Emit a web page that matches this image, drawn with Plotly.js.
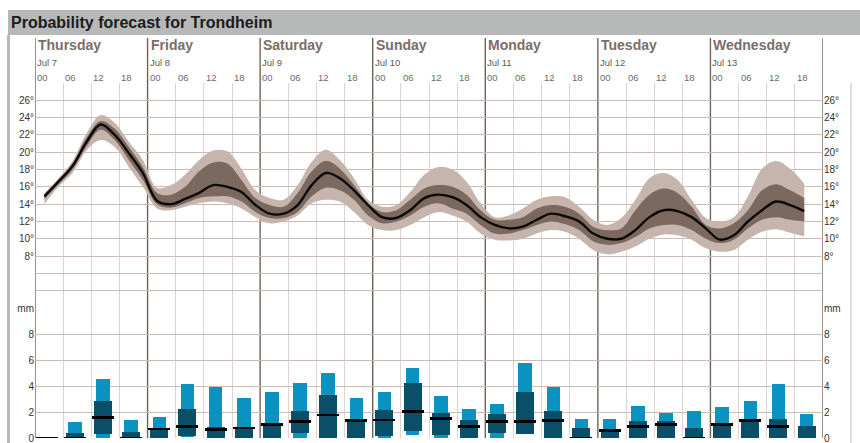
<!DOCTYPE html>
<html>
<head>
<meta charset="utf-8">
<script src="https://cdn.plot.ly/plotly-3.0.1.min.js"></script>
<style>
  html, body { margin: 0; padding: 0; background: #ffffff; }
  #chart { width: 860px; height: 443px; }
</style>
</head>
<body>
<div id="chart"></div>
<script>
// ---------------- DATA ----------------
const chartTitle = 'Probability forecast for Trondheim';
const dayNames = ['Thursday', 'Friday', 'Saturday', 'Sunday', 'Monday', 'Tuesday', 'Wednesday'];
const dayDates = ['Jul 7', 'Jul 8', 'Jul 9', 'Jul 10', 'Jul 11', 'Jul 12', 'Jul 13'];
const dayStarts = [0, 24, 48, 72, 96, 120, 144];
const hourLabels = ['00', '06', '12', '18'];

// hours since Thursday 00:00 for the temperature forecast
const tempHours = [2, 5, 8, 11, 14, 17, 20, 23,
  26, 29, 32, 35, 38, 41, 44, 47,
  50, 53, 56, 59, 62, 65, 68, 71,
  74, 77, 80, 83, 86, 89, 92, 95,
  98, 101, 104, 107, 110, 113, 116, 119,
  122, 125, 128, 131, 134, 137, 140, 143,
  146, 149, 152, 155, 158, 161, 164];
const tempMedian = [14.9, 16.6, 18.4, 21.2, 23.2, 22.0, 19.9, 17.6,
  14.4, 14.0, 14.6, 15.3, 16.2, 16.0, 15.4, 13.9,
  12.9, 12.9, 13.9, 16.2, 17.6, 17.0, 15.6, 13.9,
  12.5, 12.4, 13.3, 14.7, 15.1, 14.8, 13.9, 12.5,
  11.6, 11.2, 11.4, 12.2, 12.9, 12.6, 12.0, 10.6,
  10.0, 10.0, 11.0, 12.5, 13.3, 13.2, 12.5, 11.2,
  9.9, 10.4, 12.0, 13.3, 14.3, 13.9, 13.2];
const tempInnerHigh = [15.1, 16.8, 18.7, 21.7, 23.6, 22.7, 20.6, 18.3,
  15.3, 15.1, 16.0, 17.8, 18.8, 18.7, 16.8, 14.7,
  13.9, 13.7, 15.3, 17.8, 19.0, 18.1, 16.2, 14.1,
  13.1, 13.3, 14.5, 15.8, 16.2, 16.0, 15.1, 13.3,
  12.2, 12.2, 12.5, 13.5, 13.9, 13.7, 12.9, 11.4,
  11.0, 11.2, 13.3, 15.1, 15.8, 15.3, 13.7, 11.6,
  11.2, 11.8, 13.3, 15.6, 16.3, 15.6, 14.7];
const tempInnerLow = [14.6, 16.3, 18.0, 20.7, 22.6, 21.4, 19.1, 16.8,
  14.0, 13.6, 14.1, 14.7, 14.9, 14.9, 14.3, 13.1,
  12.4, 12.4, 13.1, 14.9, 15.9, 15.6, 14.5, 12.7,
  11.8, 12.0, 12.7, 13.7, 14.1, 13.5, 12.9, 11.6,
  10.6, 10.6, 11.0, 11.6, 12.0, 11.7, 11.0, 9.7,
  9.3, 9.5, 10.2, 11.2, 11.6, 11.6, 11.0, 10.0,
  9.5, 9.9, 11.2, 12.2, 12.5, 12.2, 12.0];
const tempOuterHigh = [15.3, 17.0, 19.0, 22.2, 24.3, 23.4, 21.2, 19.1,
  15.9, 16.2, 17.4, 19.1, 20.2, 20.1, 18.1, 15.6,
  14.7, 14.5, 16.2, 18.9, 20.3, 19.1, 17.0, 14.5,
  13.7, 13.9, 15.4, 17.4, 18.3, 18.0, 16.6, 14.1,
  12.5, 12.7, 13.5, 14.5, 14.9, 14.8, 13.7, 12.2,
  11.6, 12.4, 14.5, 17.0, 17.6, 16.8, 14.5, 12.4,
  12.0, 12.5, 14.9, 18.1, 19.0, 18.1, 16.4];
const tempOuterLow = [14.0, 16.0, 17.6, 20.2, 21.4, 20.6, 18.3, 16.0,
  13.5, 13.3, 13.7, 14.1, 14.3, 14.1, 13.5, 12.5,
  11.8, 12.0, 12.7, 14.1, 14.5, 14.3, 13.1, 11.6,
  11.0, 11.0, 11.6, 12.5, 13.1, 12.7, 12.0, 10.6,
  9.9, 9.8, 10.0, 10.6, 11.0, 10.8, 10.0, 8.7,
  8.2, 8.5, 9.1, 10.0, 10.5, 10.4, 9.9, 8.9,
  8.5, 8.7, 9.9, 10.8, 11.1, 10.7, 10.3];

// 6-hour precipitation periods (start hour since Thursday 00:00)
const precipStarts = [0, 6, 12, 18, 24, 30, 36, 42, 48, 54, 60, 66, 72, 78,
  84, 90, 96, 102, 108, 114, 120, 126, 132, 138, 144, 150, 156, 162];
const precipOuterLow = [0, 0, 0, 0, 0, 0.1, 0, 0, 0, 0, 0, 0, 0, 0.2,
  0, 0, 0, 0.3, 0, 0, 0, 0, 0, 0, 0, 0, 0, 0];
const precipOuterHigh = [0, 1.2, 4.55, 1.35, 1.65, 4.12, 3.95, 3.05, 3.54, 4.23, 5.03, 3.05, 3.52, 5.36,
  3.25, 2.24, 2.65, 5.74, 3.95, 1.46, 1.46, 2.46, 1.95, 2.05, 2.36, 2.85, 4.13, 1.85];
const precipInnerLow = [0, 0, 0.3, 0, 0, 0.18, 0, 0, 0, 0.36, 0, 0, 0.18, 0.53,
  0.25, 0, 0.36, 0.3, 0, 0, 0, 0, 0, 0, 0, 0, 0, 0];
const precipInnerHigh = [0, 0.35, 2.85, 0.43, 0.8, 2.23, 0.85, 0.85, 1.1, 2.05, 3.33, 1.4, 2.15, 4.24,
  1.96, 1.35, 1.84, 3.56, 2.08, 0.74, 0.6, 1.33, 1.33, 0.74, 1.08, 1.44, 1.46, 0.95];
const precipMedian = [0, 0, 1.57, 0, 0.68, 0.87, 0.67, 0.78, 1.03, 1.26, 1.77, 1.36, 1.37, 2.06,
  1.48, 0.88, 1.26, 1.27, 1.36, 0, 0.56, 0.9, 1.05, 0, 1.05, 1.36, 0.9, null];

const tempTicks = [2, 4, 6, 8, 10, 12, 14, 16, 18, 20, 22, 24, 26, 28];
const tempTickShown = [8, 10, 12, 14, 16, 18, 20, 22, 24, 26];
const precipTicks = [0, 2, 4, 6, 8, 10];
const precipTickText = ['0', '2', '4', '6', '8', 'mm'];

// ---------------- STYLE / GEOMETRY ----------------
const W = 860, H = 443;
const M = {l: 35, r: 37, t: 83, b: 5};
const plotH = H - M.t - M.b;      // 355
const plotW = W - M.l - M.r;      // 788
const py = (pix) => (H - M.b - pix) / plotH;   // pixel row -> paper y
const px = (pix) => (pix - M.l) / plotW;       // pixel col -> paper x
const precipDomainTop = 130 / plotH;

const C = {
  outerBand: '#c6b5ad',
  innerBand: '#7b685f',
  median: '#0c0a09',
  lightBlue: '#0a92c0',
  darkBlue: '#0b4e68',
  grid: '#cdbcb6',
  vgrid: '#ddd3d0',
  dayLine: '#6f625c',
  header: '#b6b9b8',
  dayText: '#7a6e68',
  text: '#333333'
};
const FONT = 'Liberation Sans, Arial, sans-serif';

const barOffset = 2.5; // bars drawn slightly left of interval centre

// ---------------- TRACES ----------------
const sp = {shape: 'spline', smoothing: 1};
const traces = [
  {x: tempHours, y: tempOuterLow, type: 'scatter', mode: 'lines', line: Object.assign({width: 0, color: C.outerBand}, sp), hoverinfo: 'skip', xaxis: 'x', yaxis: 'y'},
  {x: tempHours, y: tempOuterHigh, type: 'scatter', mode: 'lines', fill: 'tonexty', fillcolor: C.outerBand, line: Object.assign({width: 0, color: C.outerBand}, sp), hoverinfo: 'skip', xaxis: 'x', yaxis: 'y'},
  {x: tempHours, y: tempInnerLow, type: 'scatter', mode: 'lines', line: Object.assign({width: 0, color: C.innerBand}, sp), hoverinfo: 'skip', xaxis: 'x', yaxis: 'y'},
  {x: tempHours, y: tempInnerHigh, type: 'scatter', mode: 'lines', fill: 'tonexty', fillcolor: C.innerBand, line: Object.assign({width: 0, color: C.innerBand}, sp), hoverinfo: 'skip', xaxis: 'x', yaxis: 'y'},
  {x: tempHours, y: tempMedian, type: 'scatter', mode: 'lines', line: Object.assign({width: 2.4, color: C.median}, sp), hoverinfo: 'skip', xaxis: 'x', yaxis: 'y'}
];

const barX = precipStarts.map(h => h + barOffset);
traces.push({
  type: 'bar', x: barX, base: precipOuterLow,
  y: precipOuterHigh.map((v, i) => v - precipOuterLow[i]),
  width: 2.9, marker: {color: C.lightBlue, line: {width: 0}}, xaxis: 'x', yaxis: 'y2', hoverinfo: 'skip'
});
traces.push({
  type: 'bar', x: barX, base: precipInnerLow,
  y: precipInnerHigh.map((v, i) => v - precipInnerLow[i]),
  width: 3.85, marker: {color: C.darkBlue, line: {width: 0}}, xaxis: 'x', yaxis: 'y2', hoverinfo: 'skip'
});
traces.push({
  type: 'bar', x: barX,
  base: precipMedian.map(v => v === null ? null : v - 0.1),
  y: precipMedian.map(v => v === null ? null : 0.2),
  width: 4.7, marker: {color: '#000000', line: {width: 0}}, xaxis: 'x', yaxis: 'y2', hoverinfo: 'skip'
});
// right-hand duplicate axes
traces.push({x: [0], y: [null], type: 'scatter', mode: 'none', xaxis: 'x', yaxis: 'y3', hoverinfo: 'skip'});
traces.push({x: [0], y: [null], type: 'scatter', mode: 'none', xaxis: 'x', yaxis: 'y4', hoverinfo: 'skip'});

// ---------------- AXES ----------------
const tempTickText = tempTicks.map(t => tempTickShown.includes(t) ? t + '°' : '');
const gridHours = [];
for (let h = 0; h <= 168; h += 6) if (h % 24 !== 0) gridHours.push(h);

const tickFont = {family: FONT, size: 10, color: C.text};
const tempAxis = {
  domain: [precipDomainTop, 1], range: [2, 28], tickmode: 'array', tickvals: tempTicks, ticktext: tempTickText,
  showgrid: true, gridcolor: C.grid, gridwidth: 1, zeroline: false, showline: false, ticks: '',
  tickfont: tickFont, fixedrange: true, anchor: 'x', ticklabeloverflow: 'allow'
};
const precipAxis = {
  domain: [0, precipDomainTop], range: [0, 10], tickmode: 'array', tickvals: precipTicks, ticktext: precipTickText,
  showgrid: true, gridcolor: C.grid, gridwidth: 1, zeroline: false, showline: false, ticks: '',
  tickfont: tickFont, fixedrange: true, anchor: 'x', ticklabeloverflow: 'allow'
};

// ---------------- SHAPES ----------------
const shapes = [];
// header bar
shapes.push({type: 'rect', xref: 'paper', yref: 'paper', x0: px(8), x1: px(862), y0: py(35), y1: py(10),
  fillcolor: C.header, line: {width: 0}, layer: 'below'});
// left strip
shapes.push({type: 'rect', xref: 'paper', yref: 'paper', x0: px(7), x1: px(10), y0: py(445), y1: py(35),
  fillcolor: C.header, line: {width: 0}, layer: 'below'});
// right thin line
shapes.push({type: 'line', xref: 'paper', yref: 'paper', x0: px(851), x1: px(851), y0: py(445), y1: py(83),
  line: {color: '#d3d3d3', width: 1.5}, layer: 'below'});
// day separators
dayStarts.concat([168]).forEach(h => {
  shapes.push({type: 'line', xref: 'x', yref: 'paper', x0: h, x1: h, y0: 0, y1: py(38),
    line: {color: C.dayLine, width: 1.4}, layer: 'below'});
});

// ---------------- ANNOTATIONS ----------------
const annotations = [];
dayStarts.forEach((h, i) => {
  annotations.push({xref: 'x', yref: 'paper', x: h, y: py(45), xanchor: 'left', yanchor: 'middle', xshift: 1,
    text: '<b>' + dayNames[i] + '</b>', showarrow: false, font: {family: FONT, size: 14, color: C.dayText}});
  annotations.push({xref: 'x', yref: 'paper', x: h, y: py(62), xanchor: 'left', yanchor: 'middle', xshift: 0,
    text: dayDates[i], showarrow: false, font: {family: FONT, size: 9.5, color: '#5b5b5b'}});
});
precipStarts.forEach((h, i) => {
  annotations.push({xref: 'x', yref: 'paper', x: h, y: py(77), xanchor: 'left', yanchor: 'middle', xshift: 0,
    text: hourLabels[i % 4], showarrow: false, font: {family: FONT, size: 9.5, color: '#6b6b6b'}});
});

const layout = {
  width: W, height: H,
  margin: M,
  paper_bgcolor: '#ffffff', plot_bgcolor: '#ffffff',
  showlegend: false, hovermode: false,
  barmode: 'overlay', bargap: 0,
  title: {
    text: '<b>' + chartTitle + '</b>',
    x: 11 / W, xanchor: 'left', xref: 'container',
    y: 1 - 22 / H, yanchor: 'middle', yref: 'container',
    font: {family: FONT, size: 16, color: '#1c1c1c'}
  },
  xaxis: {
    range: [0, 168], domain: [0, 1], tickmode: 'array', tickvals: gridHours,
    showticklabels: false, ticks: '', showgrid: true, gridcolor: C.vgrid, gridwidth: 1,
    zeroline: false, showline: false, fixedrange: true, anchor: 'y2'
  },
  yaxis: Object.assign({}, tempAxis, {side: 'left'}),
  yaxis3: Object.assign({}, tempAxis, {side: 'right', overlaying: 'y', showgrid: false}),
  yaxis2: Object.assign({}, precipAxis, {side: 'left'}),
  yaxis4: Object.assign({}, precipAxis, {side: 'right', overlaying: 'y2', showgrid: false}),
  shapes: shapes,
  annotations: annotations
};

Plotly.newPlot('chart', traces, layout, {staticPlot: true, displayModeBar: false});
</script>
</body>
</html>
